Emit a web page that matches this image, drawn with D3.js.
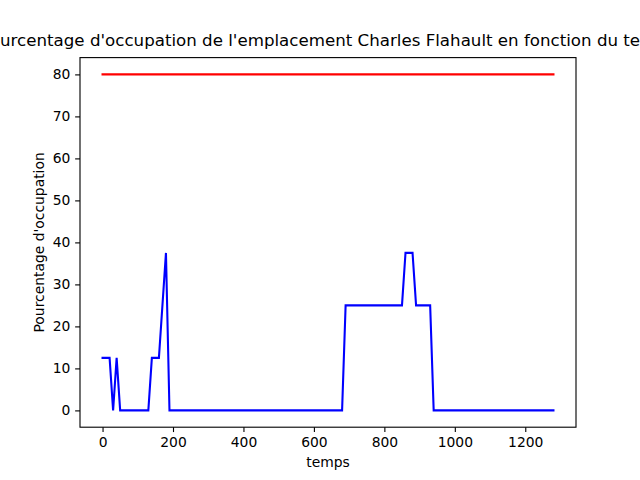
<!DOCTYPE html>
<html>
<head>
<meta charset="utf-8">
<script src="https://cdn.jsdelivr.net/npm/d3@7"></script>
<style>
  html, body { margin: 0; padding: 0; background: #fff; }
  svg { display: block; font-family: "DejaVu Sans", sans-serif; }
</style>
</head>
<body>
<svg id="chart" width="640" height="480"></svg>
<script>
// Data (breakpoints of the occupancy series)
const temps = [0, 20, 30, 40, 50, 130, 140, 160, 180, 190, 680, 690, 850, 860, 880, 890, 930, 940, 1280];
const occupation = [12.5, 12.5, 0, 12.5, 0, 0, 12.5, 12.5, 37.5, 0, 0, 25, 25, 37.5, 37.5, 25, 25, 0, 0];
const seuilTemps = [0, 1280];
const seuilValeurs = [80, 80];
const xTicks = [0, 200, 400, 600, 800, 1000, 1200];
const yTicks = [0, 10, 20, 30, 40, 50, 60, 70, 80];
const titre = "Pourcentage d'occupation de l'emplacement Charles Flahault en fonction du temps";
const xLabel = "temps";
const yLabel = "Pourcentage d'occupation";

const svg = d3.select("#chart");
const W = 640, H = 480;
const mLeft = 80, mRight = 576, mTop = 57.6, mBottom = 427.2;
const fs = 13.89;

const x = d3.scaleLinear().domain([-64, 1344]).range([mLeft, mRight]);
const y = d3.scaleLinear().domain([-4, 84]).range([mBottom, mTop]);

svg.append("rect").attr("width", W).attr("height", H).attr("fill", "#fff");

const line = d3.line().x((d) => x(d[0])).y((d) => y(d[1]));

svg.append("path")
  .datum(temps.map((t, i) => [t, occupation[i]]))
  .attr("d", line)
  .attr("fill", "none")
  .attr("stroke", "#0000ff")
  .attr("stroke-width", 2.08)
  .attr("stroke-linecap", "square");

svg.append("path")
  .datum(seuilTemps.map((t, i) => [t, seuilValeurs[i]]))
  .attr("d", line)
  .attr("fill", "none")
  .attr("stroke", "#ff0000")
  .attr("stroke-width", 2.08)
  .attr("stroke-linecap", "square");

// Axes
const xAxis = d3.axisBottom(x).tickValues(xTicks).tickSize(4.86).tickPadding(4.86).tickFormat(d3.format("d"));
const yAxis = d3.axisLeft(y).tickValues(yTicks).tickSize(4.86).tickPadding(4.86).tickFormat(d3.format("d"));

const gx = svg.append("g").attr("transform", `translate(0,${mBottom})`).call(xAxis);
const gy = svg.append("g").attr("transform", `translate(${mLeft},0)`).call(yAxis);

[gx, gy].forEach((g) => {
  g.select(".domain").remove();
  g.selectAll(".tick line").attr("stroke", "#000").attr("stroke-width", 1.11);
  g.selectAll(".tick text").attr("fill", "#000").style("font-size", fs + "px").style("font-family", "DejaVu Sans");
});

// Frame
svg.append("rect")
  .attr("x", mLeft).attr("y", mTop)
  .attr("width", mRight - mLeft).attr("height", mBottom - mTop)
  .attr("fill", "none").attr("stroke", "#000").attr("stroke-width", 1.11);

// Title
svg.append("text")
  .attr("x", (mLeft + mRight) / 2).attr("y", mTop - 8.33 - 3.5)
  .attr("text-anchor", "middle")
  .style("font-size", "16.67px")
  .attr("fill", "#000")
  .text(titre);

// X label
svg.append("text")
  .attr("x", (mLeft + mRight) / 2).attr("y", 467)
  .attr("text-anchor", "middle")
  .style("font-size", fs + "px")
  .attr("fill", "#000")
  .text(xLabel);

// Y label
svg.append("text")
  .attr("transform", `translate(44,${(mTop + mBottom) / 2}) rotate(-90)`)
  .attr("text-anchor", "middle")
  .style("font-size", fs + "px")
  .attr("fill", "#000")
  .text(yLabel);
</script>
</body>
</html>
